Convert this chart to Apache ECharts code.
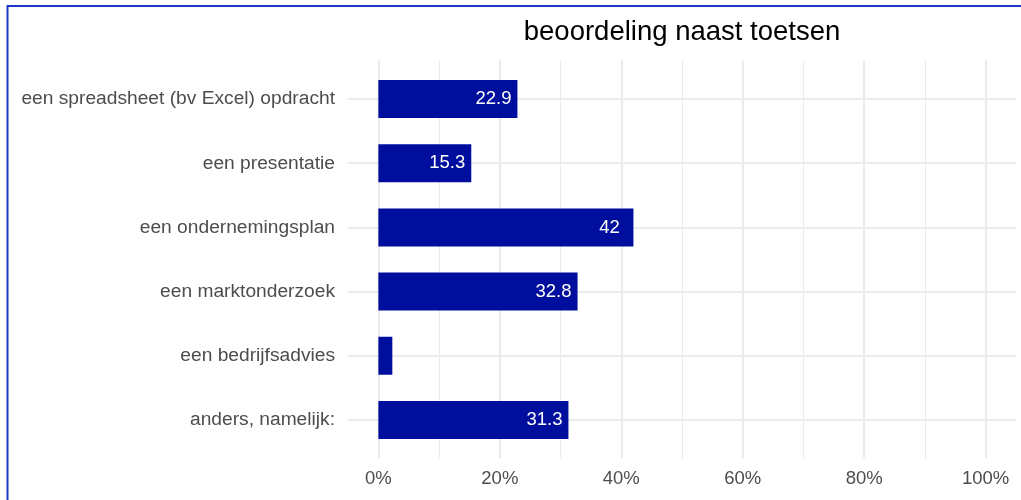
<!DOCTYPE html>
<html>
<head>
<meta charset="UTF-8" />
<title>beoordeling naast toetsen</title>
<script src="https://cdn.jsdelivr.net/npm/echarts@6.0.0/dist/echarts.min.js"></script>
<style>
  body { margin: 0; background: #fff; }
  #main { width: 1021px; height: 500px; }
</style>
</head>
<body>
<div id="main"></div>
<script type="text/javascript">
    // categorieen (van boven naar beneden)
    var categories = [
        'een spreadsheet (bv Excel) opdracht',
        'een presentatie',
        'een ondernemingsplan',
        'een marktonderzoek',
        'een bedrijfsadvies',
        'anders, namelijk:'
    ];
    // percentages
    var values = [22.9, 15.3, 42, 32.8, 2.3, 31.3];

    // as-ticks
    var majorTicks = [0, 20, 40, 60, 80, 100];
    var minorTicks = [10, 30, 50, 70, 90];
    var rowTicks = [1, 2, 3, 4, 5, 6];

    var font = "'Liberation Sans', Arial, sans-serif";
    var gridColor = '#ebebeb';
    var textGrey = '#4d4d4d';

    var option = {
        animation: false,
        title: {
            text: 'beoordeling naast toetsen',
            left: 682,
            top: 18,
            textAlign: 'center',
            padding: 0,
            textStyle: { fontSize: 27.5, fontWeight: 'normal', color: '#000', fontFamily: font }
        },
        graphic: [{
            // blauwe rand
            type: 'rect',
            shape: { x: 7.5, y: 6, width: 1200, height: 700 },
            style: { fill: 'none', stroke: '#2036c4', lineWidth: 2 },
            silent: true
        }],
        grid: [
            // grid 0: de balken
            { left: 348, right: 5, top: 67, bottom: 48 },
            // grid 1: achtergrond rasterlijnen (panel)
            { left: 348, right: 5, top: 60.5, bottom: 41.5 }
        ],
        xAxis: [
            {
                gridIndex: 0, type: 'value', min: -5, max: 105,
                axisLine: { show: false }, axisTick: { show: false },
                axisLabel: { show: false }, splitLine: { show: false }
            },
            {
                gridIndex: 1, type: 'value', min: -5, max: 105, position: 'bottom',
                axisLine: { show: false },
                axisTick: { show: false, customValues: majorTicks },
                axisLabel: {
                    customValues: majorTicks, formatter: '{value}%', margin: 11,
                    fontSize: 18.5, color: textGrey, fontFamily: font
                },
                splitLine: { show: true, lineStyle: { color: gridColor, width: 2.2 } }
            },
            {
                gridIndex: 1, type: 'value', min: -5, max: 105, position: 'top',
                axisLine: { show: false },
                axisTick: { show: false, customValues: minorTicks },
                axisLabel: { show: false },
                splitLine: { show: true, lineStyle: { color: gridColor, width: 1.1 } }
            }
        ],
        yAxis: [
            {
                gridIndex: 0, type: 'category', data: categories, inverse: true,
                axisLine: { show: false }, axisTick: { show: false },
                splitLine: { show: false },
                axisLabel: { margin: 13, fontSize: 19.2, color: textGrey, fontFamily: font }
            },
            {
                gridIndex: 1, type: 'value', min: 0.4, max: 6.6, inverse: true,
                axisLine: { show: false },
                axisTick: { show: false, customValues: rowTicks },
                axisLabel: { show: false },
                splitLine: { show: true, lineStyle: { color: gridColor, width: 2.2 } }
            }
        ],
        series: [{
            type: 'bar',
            xAxisIndex: 0,
            yAxisIndex: 0,
            data: values,
            barWidth: 38,
            itemStyle: { color: '#000e9e' },
            label: {
                show: true,
                position: 'insideRight',
                distance: 24,
                align: 'center',
                color: '#fff',
                fontSize: 18.5,
                fontFamily: font,
                formatter: function (p) { return p.value < 5 ? '' : String(p.value); }
            }
        }]
    };

    var myChart = echarts.init(document.getElementById('main'));
    myChart.setOption(option);
</script>
</body>
</html>
